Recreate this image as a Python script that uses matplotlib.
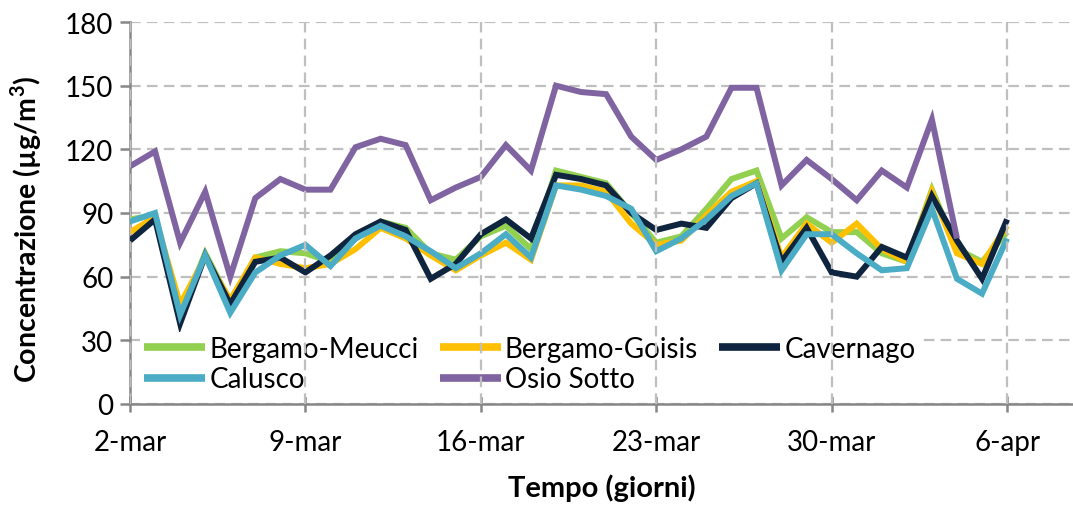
import numpy as np
import matplotlib
matplotlib.use("Agg")
import matplotlib.pyplot as plt

plt.rcParams['font.family'] = ['Lato', 'DejaVu Sans']

# ---- data (daily, 2-mar .. 6-apr) ----
days = np.arange(36)
tick_pos = [0, 7, 14, 21, 28, 35]
tick_labels = ['2-mar', '9-mar', '16-mar', '23-mar', '30-mar', '6-apr']

meucci = [87, 89, 42, 71, 48, 69, 72, 71, 67, 78, 86, 83, 71, 68, 79, 84, 73, 110,
          107, 104, 90, 76, 79, 92, 106, 110, 78, 88, 81, 81, 71, 67, 101, 73, 67, 81]
goisis = [81, 88, 47, 69, 49, 69, 66, 64, 66, 73, 83, 78, 70, 63, 70, 76, 68, 103,
          103, 100, 85, 75, 77, 89, 100, 105, 69, 85, 76, 85, 73, 67, 100, 71, 66, 84]
cavernago = [77, 87, 38, 70, 47, 67, 69, 62, 70, 80, 86, 82, 59, 66, 80, 87, 78, 108,
             106, 103, 90, 82, 85, 83, 97, 104, 67, 83, 62, 60, 74, 69, 98, 77, 59, 87]
calusco = [86, 90, 42, 70, 43, 62, 70, 75, 65, 78, 84, 79, 72, 64, 71, 80, 69, 103,
           101, 98, 92, 72, 78, 87, 98, 104, 63, 80, 80, 71, 63, 64, 92, 59, 52, 78]
osio = [112, 119, 76, 100, 60, 97, 106, 101, 101, 121, 125, 122, 96, 102, 107, 122, 110, 150,
        147, 146, 126, 115, 120, 126, 149, 149, 103, 115, 106, 96, 110, 102, 134, 78,
        np.nan, np.nan]

series = [
    ("Bergamo-Meucci", meucci, "#92D050"),
    ("Bergamo-Goisis", goisis, "#FFC000"),
    ("Cavernago", cavernago, "#0F243E"),
    ("Calusco", calusco, "#4BACC6"),
    ("Osio Sotto", osio, "#8064A2"),
]

W, H = 1073, 506
fig = plt.figure(figsize=(W / 100, H / 100), dpi=100)
ax = fig.add_axes([130 / W, 101 / H, (W - 130) / W, 382 / H])

handles = {}
for name, vals, col in series:
    ln, = ax.plot(days, vals, color=col, lw=4.3, label=name, solid_joinstyle='miter',
                  solid_capstyle='butt', zorder=3)
    handles[name] = ln

ax.set_xlim(0, 37.63)
ax.set_ylim(0, 180)
ax.set_yticks(np.arange(0, 181, 30))
ax.set_xticks(tick_pos)
ax.set_xticklabels(tick_labels)

for s in ['top', 'right']:
    ax.spines[s].set_visible(False)
for s in ['left', 'bottom']:
    ax.spines[s].set_color('#868686')
    ax.spines[s].set_linewidth(1.8)

ax.tick_params(axis='y', direction='out', length=7, width=1.8, color='#868686',
               labelsize=20, pad=5)
ax.tick_params(axis='x', direction='inout', length=12, width=1.8, color='#868686',
               labelsize=20, pad=12)

dash = (0, (4.8, 2.8))
ax.grid(True, axis='y', color='#BFBFBF', lw=1.6, linestyle=dash)
ax.set_axisbelow(True)

ax.set_ylabel('Concentrazione (µg/m$^\\mathregular{3}$)', fontsize=20.5, fontweight='bold')
ax.yaxis.set_label_coords(-86 / (W - 130), 0.46)
ax.set_xlabel('Tempo (giorni)', fontsize=21, fontweight='bold', labelpad=13)

order = ["Bergamo-Meucci", "Calusco", "Bergamo-Goisis", "Osio Sotto", "Cavernago"]
leg = ax.legend([handles[n] for n in order], order, ncol=3, loc='upper left',
                bbox_to_anchor=(140 / W, 1 - 333 / H),
                bbox_transform=fig.transFigure, frameon=True, fontsize=20,
                handlelength=2.2, handletextpad=0.15, columnspacing=0.75,
                labelspacing=0.15, borderpad=0.15, borderaxespad=0)
leg.get_frame().set_facecolor('white')
leg.get_frame().set_edgecolor('none')
leg.get_frame().set_alpha(1)
leg.get_frame().set_boxstyle('square', pad=0)
for ln in leg.get_lines():
    ln.set_linewidth(5.5)
leg.set_zorder(4)

# vertical gridlines drawn above legend background, as in the reference
for xt in tick_pos:
    ax.axvline(xt, color='#BFBFBF', lw=1.6, linestyle=dash, zorder=5)

fig.savefig('out.png', dpi=100)
